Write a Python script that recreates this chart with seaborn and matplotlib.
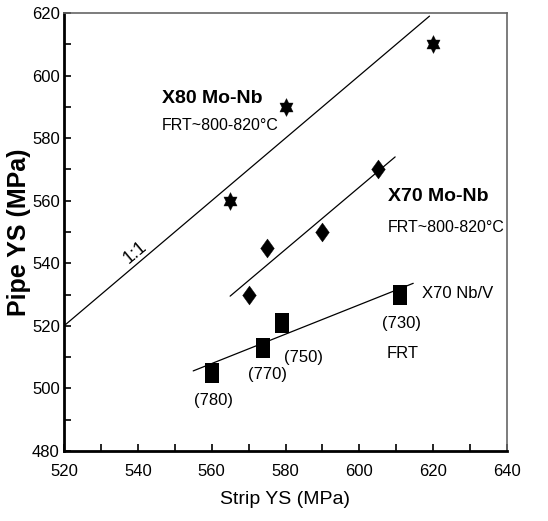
import matplotlib
matplotlib.use("Agg")
import matplotlib.pyplot as plt
import seaborn as sns
import pandas as pd
import numpy as np
from matplotlib.ticker import MultipleLocator
from matplotlib.path import Path

# ---- data ----
x80_strip = [565, 580, 620]
x80_pipe = [560, 590, 610]
x70mo_strip = [570, 575, 590, 605]
x70mo_pipe = [530, 545, 550, 570]
x70nbv_strip = [560, 574, 579, 611]
x70nbv_pipe = [505, 513, 521, 530]
frt_labels = ["(780)", "(770)", "(750)", "(730)"]

line_11_x = [520, 619]
line_11_y = [520, 619]
line_mo_x = [565, 609.7]
line_mo_y = [529.5, 574]
line_nbv_x = [555, 614.6]
line_nbv_y = [505.6, 533.6]

sns.set_theme(style="white")
plt.rcParams['font.family'] = ['Liberation Sans', 'DejaVu Sans']
plt.rcParams['text.color'] = 'black'
plt.rcParams['axes.labelcolor'] = 'black'

fig = plt.figure(figsize=(5.48, 5.21), dpi=100)
ax = fig.add_axes([64/548, 70/521, 443/548, 438/521])

# hexagram marker
t = np.linspace(0, 2*np.pi, 13)[:-1] + np.pi/2
r = np.where(np.arange(12) % 2 == 0, 1.0, 0.58)
verts = np.column_stack([0.85*r*np.cos(t), r*np.sin(t)])
verts = np.vstack([verts, verts[0]])
hexa = Path(verts, [Path.MOVETO] + [Path.LINETO]*11 + [Path.CLOSEPOLY])
# tall rectangle marker
rect = Path([(-0.75, -1), (0.75, -1), (0.75, 1), (-0.75, 1), (-0.75, -1)],
            [Path.MOVETO, Path.LINETO, Path.LINETO, Path.LINETO, Path.CLOSEPOLY])
# diamond marker
diam = Path([(0, -1), (0.72, 0), (0, 1), (-0.72, 0), (0, -1)],
            [Path.MOVETO, Path.LINETO, Path.LINETO, Path.LINETO, Path.CLOSEPOLY])

df80 = pd.DataFrame({"x": x80_strip, "y": x80_pipe})
dfmo = pd.DataFrame({"x": x70mo_strip, "y": x70mo_pipe})
dfnb = pd.DataFrame({"x": x70nbv_strip, "y": x70nbv_pipe})

ax.plot(line_11_x, line_11_y, color="black", lw=0.9)
ax.plot(line_mo_x, line_mo_y, color="black", lw=0.9)
ax.plot(line_nbv_x, line_nbv_y, color="black", lw=0.9)

sns.scatterplot(data=df80, x="x", y="y", marker=hexa, s=165, color="black", edgecolor="black", linewidth=0.3, ax=ax, zorder=3)
sns.scatterplot(data=dfmo, x="x", y="y", marker=diam, s=185, color="black", edgecolor="black", linewidth=0.3, ax=ax, zorder=3)
sns.scatterplot(data=dfnb, x="x", y="y", marker=rect, s=190, color="black", edgecolor="black", linewidth=0, ax=ax, zorder=3)

ax.set_xlim(520, 640)
ax.set_ylim(480, 620)
ax.xaxis.set_major_locator(MultipleLocator(20))
ax.xaxis.set_minor_locator(MultipleLocator(10))
ax.yaxis.set_major_locator(MultipleLocator(20))
ax.yaxis.set_minor_locator(MultipleLocator(10))
ax.tick_params(which="both", direction="in", length=5, width=1.2, color="black",
               labelsize=12, labelcolor="black", bottom=True, left=True, top=False, right=False)
ax.tick_params(axis="x", pad=9)
ax.tick_params(axis="y", pad=3)

for side in ["left", "bottom"]:
    ax.spines[side].set_color("black")
    ax.spines[side].set_linewidth(2)
for side in ["top", "right"]:
    ax.spines[side].set_color("#666666")
    ax.spines[side].set_linewidth(1.2)

ax.set_xlabel("Strip YS (MPa)", fontsize=14, labelpad=9)
ax.set_ylabel("Pipe YS (MPa)", fontsize=18, fontweight="bold", labelpad=1)

ax.text(546.5, 592.8, "X80 Mo-Nb", fontsize=14, fontweight="bold", va="center")
ax.text(546.5, 583.9, "FRT~800-820°C", fontsize=11.5, va="center")
ax.text(607.8, 561.2, "X70 Mo-Nb", fontsize=14, fontweight="bold", va="center")
ax.text(607.8, 551.3, "FRT~800-820°C", fontsize=11.5, va="center")
ax.text(617, 530.5, "X70 Nb/V", fontsize=12, va="center")
ax.text(539.2, 543.4, "1:1", fontsize=13, rotation=40, ha="center", va="center")

label_pos_x = [560.4, 575, 585, 611.5]
label_pos_y = [496.3, 504.3, 510, 520.9]
for lx, ly, lab in zip(label_pos_x, label_pos_y, frt_labels):
    ax.text(lx, ly, lab, fontsize=12, ha="center", va="center")
ax.text(611.8, 511.3, "FRT", fontsize=12, ha="center", va="center")

fig.savefig("out.png", dpi=100)
